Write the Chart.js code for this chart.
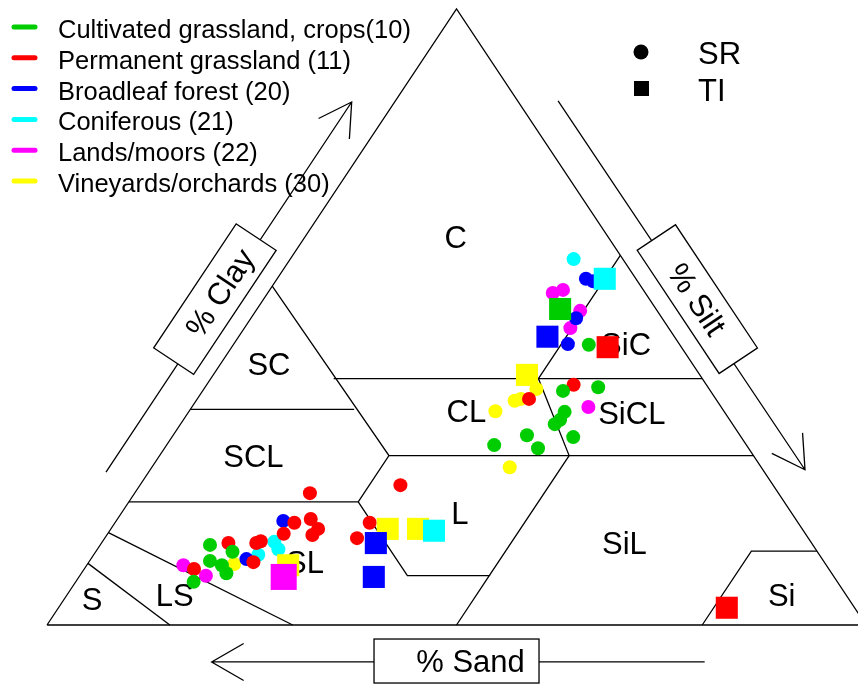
<!DOCTYPE html>
<html>
<head>
<meta charset="utf-8">
<script src="https://cdn.jsdelivr.net/npm/chart.js@4"></script>
<style>
html, body { margin: 0; padding: 0; background: #fff; }
canvas { display: block; }
</style>
</head>
<body>
<canvas id="soilChart" width="858" height="684"></canvas>
<script>
// land use groups, in legend order, with the old R palette colours
const groups = ["Cultivated grassland, crops(10)", "Permanent grassland (11)", "Broadleaf forest (20)",
                "Coniferous (21)", "Lands/moors (22)", "Vineyards/orchards (30)"];
const groupColors = ["#00CD00", "#FF0000", "#0000FF", "#00FFFF", "#FF00FF", "#FFFF00"];
const methods = ["SR", "TI"];

// samples as [clay %, silt %]   (sand = 100 - clay - silt)
const cultSR = [[45.5, 43.4], [38.0, 44.0], [38.6, 48.0], [34.6, 45.9], [33.3, 46.0], [32.6, 45.7],
                [30.8, 43.2], [30.5, 49.0], [29.2, 40.0], [28.7, 45.6], [13.0, 13.4], [11.9, 16.7],
                [10.4, 14.7], [9.7, 16.5], [8.4, 17.7], [7.0, 14.4]];
const cultTI = [[51.3, 37.0]];
const permSR = [[39.0, 44.8], [36.7, 40.5], [21.4, 21.4], [22.7, 31.8], [16.6, 21.9], [17.2, 23.6],
                [15.6, 25.3], [14.6, 25.1], [14.8, 21.5], [13.3, 15.5], [13.3, 18.9], [13.6, 19.3],
                [10.2, 20.1], [9.1, 13.4], [16.6, 31.1], [14.1, 30.8]];
const permTI = [[45.1, 45.9], [2.8, 81.6]];
const broadSR = [[56.2, 37.7], [55.8, 38.8], [49.8, 39.7], [45.6, 40.8], [16.9, 20.4], [10.7, 19.0]];
const broadTI = [[46.8, 37.7], [13.3, 33.5], [7.8, 36.0]];
const conifSR = [[59.4, 34.6], [13.5, 21.0], [12.3, 22.1], [11.4, 20.1]];
const conifTI = [[56.2, 40.0], [15.3, 39.6]];
const moorSR = [[53.9, 34.8], [54.4, 35.8], [51.0, 39.6], [48.2, 39.8], [35.4, 48.4], [9.7, 11.8], [8.0, 15.4]];
const moorTI = [[7.8, 25.0]];
const vineSR = [[38.3, 40.6], [36.4, 38.9], [36.7, 39.5], [34.7, 37.4], [25.6, 43.7], [9.9, 17.9]];
const vineTI = [[40.6, 38.3], [9.7, 24.6], [15.6, 33.8], [15.6, 37.5]];

const srSets = [cultSR, permSR, broadSR, conifSR, moorSR, vineSR];
const tiSets = [cultTI, permTI, broadTI, conifTI, moorTI, vineTI];

// USDA texture class boundaries, [clay, silt]
const classLines = [
  [[0, 0], [0, 100], [100, 0], [0, 0]],
  [[10, 0], [0, 15]],
  [[15, 0], [0, 30]],
  [[20, 0], [20, 28]],
  [[20, 28], [8, 40], [8, 50], [0, 50]],
  [[55, 0], [27.5, 28], [20, 28]],
  [[35, 0], [35, 20]],
  [[40, 15], [40, 60]],
  [[27.5, 28], [27.5, 72.5]],
  [[60, 40], [40, 40], [27.5, 50], [8, 50]],
  [[0, 80], [12, 80], [12, 88]]
];
const classNames = ["C", "SC", "SCL", "CL", "SiC", "SiCL", "L", "SiL", "Si", "SL", "LS", "S"];
const classSpots = [[49.9, 63.0], [27.1, 42.4], [25.2, 27.4], [51.2, 34.7], [70.7, 45.6], [71.4, 34.4],
                    [50.4, 18.2], [70.5, 13.3], [89.7, 4.9], [31.5, 10.2], [15.6, 4.9], [5.5, 4.2]];

function toXY(p) {
  return { x: p[1] + p[0] / 2, y: p[0] };
}

const datasets = [];
// squares (TI) on top, then circles (SR), then the triangle lines
tiSets.forEach((s, i) => {
  datasets.push({
    label: groups[i] + " TI",
    data: s.map(toXY),
    pointStyle: "rect",
    pointRadius: i == 4 ? 18.4 : 15.6,
    pointBackgroundColor: groupColors[i],
    pointBorderWidth: 0,
    showLine: false
  });
});
srSets.forEach((s, i) => {
  datasets.push({
    label: groups[i] + " SR",
    data: s.map(toXY),
    pointStyle: "circle",
    pointRadius: 7,
    pointBackgroundColor: groupColors[i],
    pointBorderWidth: 0,
    showLine: false
  });
});
classLines.forEach(l => {
  datasets.push({
    label: "",
    data: l.map(toXY),
    showLine: true,
    pointRadius: 0,
    borderColor: "#000",
    borderWidth: 1.3,
    fill: false
  });
});

const FONT = '"Liberation Sans", Arial, sans-serif';

function arrow(ctx, x1, y1, x2, y2) {
  const a = Math.atan2(y2 - y1, x2 - x1);
  const len = 37, w = Math.PI / 6;
  ctx.beginPath();
  ctx.moveTo(x1, y1);
  ctx.lineTo(x2, y2);
  ctx.moveTo(x2 - len * Math.cos(a - w), y2 - len * Math.sin(a - w));
  ctx.lineTo(x2, y2);
  ctx.lineTo(x2 - len * Math.cos(a + w), y2 - len * Math.sin(a + w));
  ctx.stroke();
}

function labelBox(ctx, cx, cy, w, h, ang, text, shift) {
  ctx.save();
  ctx.translate(cx, cy);
  ctx.rotate(ang);
  ctx.fillStyle = "#fff";
  ctx.fillRect(-w / 2, -h / 2, w, h);
  ctx.strokeRect(-w / 2, -h / 2, w, h);
  ctx.fillStyle = "#000";
  ctx.font = "31px " + FONT;
  ctx.textAlign = "center";
  ctx.textBaseline = "alphabetic";
  ctx.fillText(text, shift, 31 * 0.358);
  ctx.restore();
}

const decor = {
  id: "decor",
  beforeDatasetsDraw(chart) {
    const ctx = chart.ctx;
    const sx = chart.scales.x, sy = chart.scales.y;
    const P = (tx, ty) => [sx.getPixelForValue(tx), sy.getPixelForValue(ty)];

    ctx.save();
    ctx.strokeStyle = "#000";
    ctx.lineWidth = 1.3;

    // axis arrows
    let a = P(7.2, 24.8), b = P(37.2, 84.9);
    arrow(ctx, a[0], a[1], b[0], b[1]);
    a = P(62.4, 85.1); b = P(92.55, 25.2);
    arrow(ctx, a[0], a[1], b[0], b[1]);
    a = P(80.3, -6.0); b = P(20.1, -6.0);
    arrow(ctx, a[0], a[1], b[0], b[1]);

    const e0 = P(0, 0), e1 = P(50, 100);
    const edgeAng = Math.atan2(e1[1] - e0[1], e1[0] - e0[0]);
    let c = P(20.5, 52.9);
    labelBox(ctx, c[0], c[1], 149, 48, edgeAng, "% Clay", 8);
    c = P(79.4, 52.9);
    labelBox(ctx, c[0], c[1], 148, 46, -edgeAng, "% Silt", 0);
    c = P(50.0, -5.85);
    labelBox(ctx, c[0], c[1], 165, 44, 0, "% Sand", 14);

    // texture class names
    ctx.fillStyle = "#000";
    ctx.font = "31px " + FONT;
    ctx.textAlign = "center";
    ctx.textBaseline = "alphabetic";
    classNames.forEach((n, i) => {
      const p = P(classSpots[i][0], classSpots[i][1]);
      ctx.fillText(n, p[0], p[1] + 31 * 0.358);
    });

    // land use legend
    ctx.textAlign = "left";
    ctx.font = "25.5px " + FONT;
    groups.forEach((g, i) => {
      const y = 27 + i * 30.8;
      ctx.strokeStyle = groupColors[i];
      ctx.lineWidth = 5;
      ctx.lineCap = "round";
      ctx.beginPath();
      ctx.moveTo(14, y);
      ctx.lineTo(35, y);
      ctx.stroke();
      ctx.fillStyle = "#000";
      ctx.fillText(g, 58, y + 11);
    });

    // method legend
    ctx.fillStyle = "#000";
    ctx.beginPath();
    ctx.arc(641, 52, 7.5, 0, Math.PI * 2);
    ctx.fill();
    ctx.fillRect(634, 81, 15, 15);
    ctx.font = "31px " + FONT;
    ctx.fillText(methods[0], 698, 64);
    ctx.fillText(methods[1], 698, 101);
    ctx.restore();
  }
};

new Chart(document.getElementById("soilChart"), {
  type: "scatter",
  data: { datasets: datasets },
  options: {
    responsive: false,
    animation: false,
    devicePixelRatio: 1,
    events: [],
    layout: { padding: 0, autoPadding: false },
    plugins: { legend: { display: false }, tooltip: { enabled: false } },
    scales: {
      x: { type: "linear", min: -5.74, max: 99.02, display: false },
      y: { type: "linear", min: -9.58, max: 101.46, display: false }
    }
  },
  plugins: [decor]
});
</script>
</body>
</html>
